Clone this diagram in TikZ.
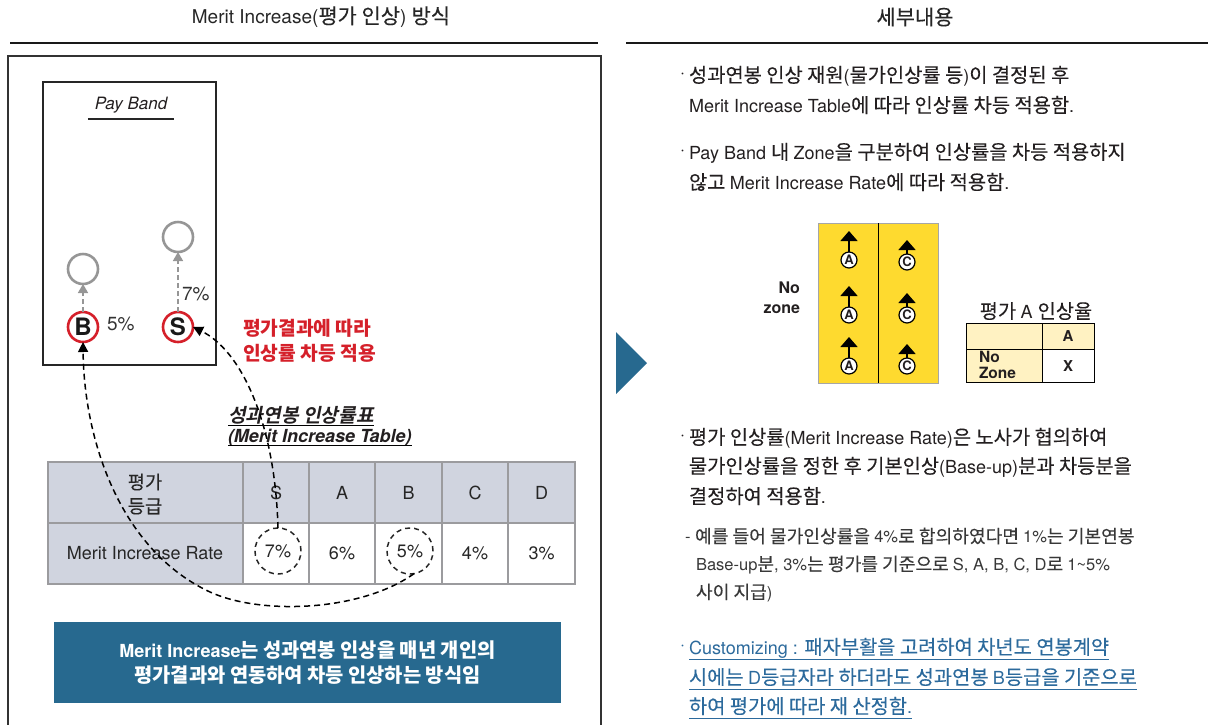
\documentclass[tikz,border=0pt]{standalone}
\usepackage{fontspec}
\setmainfont{TeX Gyre Heros}
\newfontfamily\latfont{TeX Gyre Heros}
\newfontfamily\krfont[Scale=1.1,UprightFeatures={FakeBold=0.15},ItalicFont={Noto Sans CJK KR},ItalicFeatures={FakeSlant=0.2},BoldItalicFont={Noto Sans CJK KR Bold},BoldItalicFeatures={FakeSlant=0.2}]{Noto Sans CJK KR}
\XeTeXinterchartokenstate=1
\newXeTeXintercharclass\krclass
\newcount\krcnt
\krcnt="AC00
\loop
  \XeTeXcharclass\krcnt=\krclass
  \advance\krcnt by 1
\ifnum\krcnt<"D7A4 \repeat
\XeTeXinterchartoks 0 \krclass = {\krfont}
\XeTeXinterchartoks 4095 \krclass = {\krfont}
\XeTeXinterchartoks \krclass 0 = {\latfont}
\XeTeXinterchartoks 4095 0 = {\latfont}
\usetikzlibrary{arrows.meta,calc}
\definecolor{mblue}{RGB}{39,105,143}
\definecolor{mred}{RGB}{213,32,42}
\definecolor{tgray}{RGB}{208,212,223}
\definecolor{lgray}{RGB}{150,150,150}
\definecolor{gridg}{RGB}{155,155,158}
\definecolor{ylw}{RGB}{254,218,47}
\definecolor{lylw}{RGB}{255,242,194}
\definecolor{tblue}{RGB}{44,106,156}
\definecolor{txt}{RGB}{35,31,32}
\newcommand\fsz[2]{\fontsize{#1}{#2}\selectfont}
\begin{document}
\begin{tikzpicture}[x=1pt,y=-1pt,
  every node/.style={inner sep=0pt,outer sep=0pt,text=txt},
  hdr/.style={font=\fsz{19}{22},text=black!85},
  body/.style={anchor=west,font=\fsz{18}{22}},
  bdot/.style={anchor=west,font=\fsz{18}{22}},
  subt/.style={anchor=west,font=\fsz{16.5}{20},text=black!78},
  cust/.style={anchor=west,font=\fsz{18}{22},text=tblue},
  cell/.style={font=\fsz{18}{22},text=black!85},
  grade/.style={circle,draw=mred,line width=2.6pt,minimum size=30pt,font=\bfseries\fsz{24}{24},text=black!90},
  ghost/.style={circle,draw=lgray,line width=2.6pt,minimum size=30pt},
  garrow/.style={draw=lgray,line width=1.6pt,dash pattern=on 5pt off 3pt,-{Triangle[width=10pt,length=9pt]}},
  darrow/.style={draw=black,line width=1.5pt,dash pattern=on 6pt off 4pt,-{Triangle[width=10pt,length=10pt]}},
  dcirc/.style={circle,draw=black!85,line width=1.5pt,dash pattern=on 5pt off 4pt,minimum size=46pt,font=\fsz{18}{22},text=black!85},
  zc/.style={circle,draw=black,line width=1.2pt,fill=white,minimum size=16pt,font=\bfseries\fsz{13}{13}},
  zarrow/.style={line width=1.5pt,-{Triangle[width=17pt,length=10pt]}}
]
\useasboundingbox (0,0) rectangle (1208,724);

% headers
\node[hdr] (h1) at (321,17) {Merit Increase(평가 인상) 방식};
\node[hdr] (h2) at (915,17) {세부내용};
\draw[line width=2.5pt,black!90] (10,43) -- (598,43);
\draw[line width=2.5pt,black!90] (626,43) -- (1208,43);

% left frame and arrow
\draw[line width=1.5pt,black!80] (8,726) -- (8,56) -- (601,56) -- (601,726);
\fill[mblue] (616,332) -- (647,363) -- (616,394) -- cycle;

% pay band
\draw[line width=1.5pt,black!85] (43,82) rectangle (216,365);
\node[font=\itshape\fsz{17}{20}] (pb) at (131,105) {Pay Band};
\draw[line width=2pt,black!85] ($(pb.base west)+(-7,10)$) -- ($(pb.base east)+(7,10)$);

\node[ghost] (Bg) at (83,269) {};
\node[ghost] (Sg) at (178,237) {};
\node[grade] (B) at (83,327) {B};
\node[grade] (S) at (178,327) {S};
\draw[garrow] (B) -- (Bg);
\draw[garrow] (S) -- (Sg);
\node[anchor=west,font=\fsz{19}{19},text=black!80] (p5) at (107,324) {5\%};
\node[anchor=west,font=\fsz{19}{19},text=black!80] (p7) at (182,294) {7\%};

\node[anchor=west,align=left,font=\bfseries\fsz{17.5}{25},text=mred] (rt) at (243,341) {평가결과에 따라\\인상률 차등 적용};

% table title
\node[anchor=west,font=\bfseries\itshape\fsz{17.5}{22}] (tt1) at (228,415.5) {성과연봉 인상률표};
\node[anchor=west,font=\bfseries\itshape\fsz{18}{22}] (tt2) at (228,437.5) {(Merit Increase Table)};
\draw[line width=1.2pt] ($(tt1.base west)+(0,2.5)$) -- ($(tt1.base east)+(0,2.5)$);
\draw[line width=1.2pt] ($(tt2.base west)+(0,3.5)$) -- ($(tt2.base east)+(0,3.5)$);

% table
\fill[tgray] (48,462) rectangle (575,523);
\fill[tgray] (48,523) rectangle (243,584);
\draw[gridg,line width=2.2pt] (48,462) rectangle (575,584);
\draw[gridg,line width=2.2pt] (48,523) -- (575,523);
\foreach \xx in {243,309,375,442,508} \draw[gridg,line width=2.2pt] (\xx,462) -- (\xx,584);
\node[cell,align=center,font=\fsz{17}{24}] (thg) at (145,494) {평가\\등급};
\node[cell] (thS) at (276,493) {S};
\node[cell] (thA) at (342,493) {A};
\node[cell] (thB) at (408.5,493) {B};
\node[cell] (thC) at (475,493) {C};
\node[cell] (thD) at (541.5,493) {D};
\node[cell] (rl) at (145,553) {Merit Increase Rate};
\node[dcirc] (c7) at (278,551) {7\%};
\node[cell] (r6) at (342,553) {6\%};
\node[dcirc] (c5) at (410,551) {5\%};
\node[cell] (r4) at (475,553) {4\%};
\node[cell] (r3) at (541.5,553) {3\%};

% dashed connectors
\draw[darrow] (c7.north) .. controls (275,420) and (240,350) .. (S.east);
\draw[darrow] (c5.-80) .. controls (360,612) and (260,615) .. (210,592) .. controls (120,550) and (84,440) .. (B.south);

% blue box
\node[fill=mblue,minimum width=507pt,minimum height=81pt,text=white,align=center,font=\bfseries\fsz{18}{25}] (mb) at (307.5,662.5) {Merit Increase는 성과연봉 인상을 매년 개인의\\평가결과와 연동하여 차등 인상하는 방식임};

% right text
\node[bdot] (d1) at (680,76) {·};
\node[body] (b1a) at (689,76) {성과연봉 인상 재원(물가인상률 등)이 결정된 후};
\node[body] (b1b) at (689,105) {Merit Increase Table에 따라 인상률 차등 적용함.};
\node[bdot] (d2) at (680,153) {·};
\node[body] (b2a) at (689,153) {Pay Band 내 Zone을 구분하여 인상률을 차등 적용하지};
\node[body] (b2b) at (689,182) {않고 Merit Increase Rate에 따라 적용함.};

% yellow figure
\fill[ylw] (818,223) rectangle (938,383);
\draw[black!35,line width=0.8pt] (818,223) rectangle (938,383);
\draw[line width=1pt] (878,223) -- (878,383);
\node[zc] (a1) at (849,260) {A};
\node[zc] (a2) at (849,315) {A};
\node[zc] (a3) at (849,366) {A};
\node[zc] (k1) at (907,262) {C};
\node[zc] (k2) at (907,315) {C};
\node[zc] (k3) at (907,366) {C};
\foreach \n in {a1,a2,a3} \draw[zarrow] (\n.north) -- ++(0,-21);
\foreach \n in {k1,k2,k3} \draw[zarrow] (\n.north) -- ++(0,-14);
\node[anchor=east,align=right,font=\bfseries\fsz{16}{20}] (nz) at (800,298) {No\\zone};

\node[font=\fsz{18}{20}] (t2) at (1036,311) {평가 A 인상율};
\fill[lylw] (966,323) rectangle (1094,349);
\fill[lylw] (966,349) rectangle (1042,382);
\draw[line width=1pt] (966,323) rectangle (1094,382);
\draw[line width=1pt] (966,349) -- (1094,349);
\draw[line width=1pt] (1042,323) -- (1042,382);
\node[font=\bfseries\fsz{15}{15}] (tA) at (1068,336) {A};
\node[font=\bfseries\fsz{15}{15}] (tX) at (1068,366) {X};
\node[anchor=west,align=left,font=\bfseries\fsz{15.5}{16}] (tN) at (979,365) {No\\Zone};

% bullet 3
\node[bdot] (d3) at (680,438) {·};
\node[body] (b3a) at (689,438) {평가 인상률(Merit Increase Rate)은 노사가 협의하여};
\node[body] (b3b) at (689,467) {물가인상률을 정한 후 기본인상(Base-up)분과 차등분을};
\node[body] (b3c) at (689,496) {결정하여 적용함.};
\node[subt] (s1) at (685,536) {- 예를 들어 물가인상률을 4\%로 합의하였다면 1\%는 기본연봉};
\node[subt] (s2) at (696,565) {Base-up분, 3\%는 평가를 기준으로 S, A, B, C, D로 1\textasciitilde5\%};
\node[subt] (s3) at (696,593) {사이 지급)};

% bullet 4
\node[bdot,text=tblue] (d4) at (680,648) {·};
\node[cust] (u1) at (689,648) {Customizing : 패자부활을 고려하여 차년도 연봉계약};
\node[cust] (u2) at (689,677) {시에는 D등급자라 하더라도 성과연봉 B등급을 기준으로};
\node[cust] (u3) at (689,706) {하여 평가에 따라 재 산정함.};
\foreach \u in {u1,u2,u3} \draw[tblue,line width=1.3pt] ($(\u.base west)+(0,5)$) -- ($(\u.base east)+(0,5)$);
\end{tikzpicture}
\end{document}
